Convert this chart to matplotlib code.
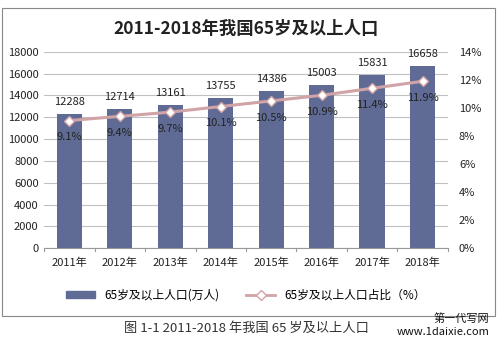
import matplotlib.pyplot as plt
import numpy as np
from matplotlib.patches import Rectangle
from matplotlib.lines import Line2D

plt.rcParams['font.family'] = ['Noto Sans CJK SC', 'DejaVu Sans']

years = ['2011年', '2012年', '2013年', '2014年', '2015年', '2016年', '2017年', '2018年']
population = [12288, 12714, 13161, 13755, 14386, 15003, 15831, 16658]
share = [9.1, 9.4, 9.7, 10.1, 10.5, 10.9, 11.4, 11.9]

bar_color = '#5f6b95'
line_color = '#d0a3a6'

fig = plt.figure(figsize=(5.02, 3.55), dpi=100)
ax = fig.add_axes([0.088, 0.301, 0.804, 0.553])
x = np.arange(len(years))

ax.bar(x, population, width=0.5, color=bar_color, zorder=2)
ax.set_ylim(0, 18000)
ax.set_yticks(np.arange(0, 18001, 2000))
ax.set_xlim(-0.5, len(years) - 0.5)
ax.set_xticks(x)
ax.set_xticklabels(years)
ax.yaxis.grid(True, color='#c0c0c0', linewidth=0.8, zorder=0)
for s in ['top', 'right', 'left']:
    ax.spines[s].set_visible(False)
ax.spines['bottom'].set_color('#999999')
ax.tick_params(axis='y', length=0, labelsize=8, colors='#222222', pad=4)
ax.tick_params(axis='x', length=0, labelsize=8, colors='#222222', pad=7)
# small tick marks between categories
for b in np.arange(-0.5, len(years), 1.0):
    ax.plot([b, b], [0, -250], color='#999999', linewidth=0.8, clip_on=False)

for xi, v in zip(x, population):
    ax.text(xi, v + 1100, str(v), ha='center', va='center', fontsize=8, color='#222222')

ax2 = ax.twinx()
ax2.set_ylim(0, 14)
ax2.set_yticks(np.arange(0, 15, 2))
ax2.set_yticklabels([f'{t}%' for t in range(0, 15, 2)])
for s in ['top', 'right', 'left', 'bottom']:
    ax2.spines[s].set_visible(False)
ax2.tick_params(axis='y', length=0, labelsize=8, colors='#222222', pad=8)
ax2.plot(x, share, color=line_color, linewidth=2.2, marker='D', markersize=5,
         markerfacecolor='white', markeredgecolor=line_color, markeredgewidth=1, zorder=3)
for xi, v in zip(x, share):
    ax2.text(xi, v - 1.2, f'{v}%', ha='center', va='center', fontsize=8, color='#222222')

fig.text(0.49, 0.918, '2011-2018年我国65岁及以上人口', ha='center', va='center',
         fontsize=12.5, fontweight='bold', color='#222222')

handles = [Rectangle((0, 0), 1, 1, color=bar_color),
           Line2D([], [], color=line_color, linewidth=2, marker='D', markersize=5,
                  markerfacecolor='white', markeredgecolor=line_color)]
fig.legend(handles, ['65岁及以上人口(万人)', '65岁及以上人口占比（%）'],
           loc='center', bbox_to_anchor=(0.49, 0.168), ncol=2, frameon=False,
           fontsize=8.5, handlelength=2.5, columnspacing=2.2, handleheight=0.5)

fig.patches.append(Rectangle((0.004, 0.11), 0.982, 0.867, transform=fig.transFigure,
                             fill=False, edgecolor='#888888', linewidth=0.8))

fig.text(0.49, 0.075, '图 1-1 2011-2018 年我国 65 岁及以上人口', ha='center', va='center',
         fontsize=9.5, color='#333333')
fig.text(0.975, 0.103, '第一代写网', ha='right', va='center', fontsize=8, color='#111111')
fig.text(0.975, 0.065, 'www.1daixie.com', ha='right', va='center', fontsize=8, color='#111111')

fig.savefig('out.png', dpi=100)
